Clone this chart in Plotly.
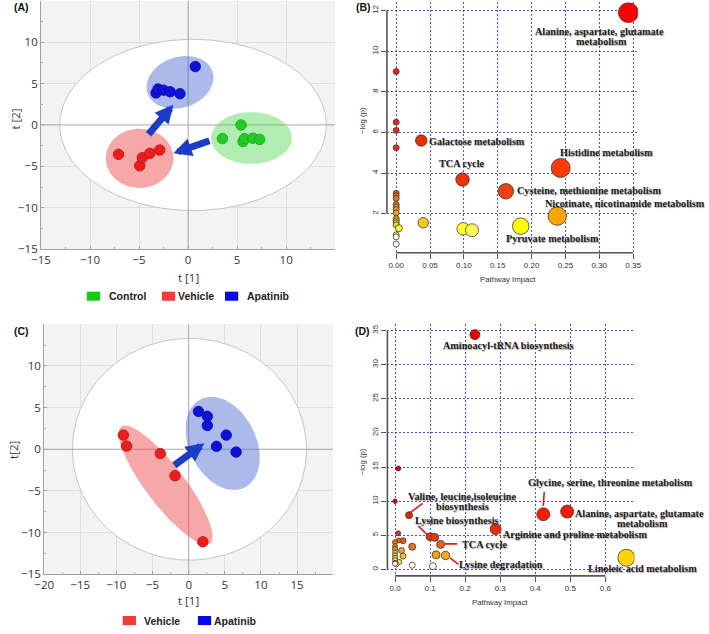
import numpy as np
import plotly.graph_objects as go

W, H = 709, 634

# ---------------- (A) PCA scores: Control / Vehicle / Apatinib ----------------
a_control_t1 = [5.4, 3.5, 5.6, 5.75, 6.6, 7.3]
a_control_t2 = [0.0, -1.65, -2.0, -1.65, -1.6, -1.75]
a_vehicle_t1 = [-7.1, -4.93, -4.67, -3.9, -2.9]
a_vehicle_t2 = [-3.55, -4.94, -3.95, -3.43, -3.03]
a_apatinib_t1 = [0.73, -3.27, -3.07, -2.5, -1.83, -0.83]
a_apatinib_t2 = [7.05, 3.86, 4.34, 4.2, 4.0, 3.77]
a_ticks = [-15, -10, -5, 0, 5, 10]
a_legend = ["Control", "Vehicle", "Apatinib"]

# ---------------- (C) PCA scores: Vehicle / Apatinib ----------------
c_vehicle_t1 = [-9.04, -8.6, -3.93, -1.9, 1.95]
c_vehicle_t2 = [1.7, 0.39, -0.52, -3.17, -11.1]
c_apatinib_t1 = [1.36, 2.58, 2.58, 5.2, 3.85, 6.56]
c_apatinib_t2 = [4.54, 3.95, 2.85, 1.7, 0.35, -0.33]
c_xticks = [-20, -15, -10, -5, 0, 5, 10, 15]
c_yticks = [-15, -10, -5, 0, 5, 10]
c_legend = ["Vehicle", "Apatinib"]

group_colors = {"Control": "#22cc22", "Vehicle": "#ee1c1c", "Apatinib": "#1010dc"}
group_edges = {"Control": "#16a316", "Vehicle": "#b81010", "Apatinib": "#0a0a9c"}
legend_colors = {"Control": "#11cc11", "Vehicle": "#f53c3c", "Apatinib": "#0808e8"}
ellipse_fills = {"Control": "rgba(60,210,60,0.40)", "Vehicle": "rgba(235,60,60,0.45)",
                 "Apatinib": "rgba(70,100,210,0.45)"}

# ---------------- (B) pathway analysis: Vehicle vs Control ----------------
b_impact = [0.0, 0.0, 0.0, 0.0, 0.0, 0.0, 0.0, 0.0, 0.0, 0.0, 0.0, 0.0, 0.0, 0.0, 0.0,
            0.0, 0.0, 0.0, 0.004, 0.040, 0.037, 0.098, 0.099, 0.112, 0.162, 0.184,
            0.238, 0.243, 0.343]
b_logp = [9.0, 6.5, 6.1, 5.25, 3.0, 2.88, 2.75, 2.45, 2.33, 2.2, 2.03, 1.75, 1.65, 1.55,
          1.45, 0.95, 0.85, 0.5, 1.28, 1.55, 5.6, 3.68, 1.25, 1.18, 3.1, 1.38, 1.88,
          4.25, 11.9]
b_size = [6, 6, 6, 6, 6, 6, 6, 6, 6, 6, 6, 6, 6, 6, 6, 6, 6, 6, 7, 10.5, 11.5, 13.5,
          12.5, 13, 15.5, 16.5, 18.5, 19, 20]
b_color = ["#e81e0a", "#e8240a", "#e8280a", "#e82e0a", "#e85c10", "#e86610", "#ea6e10",
           "#ee7e10", "#f08810", "#f29210", "#f4a010", "#f8b814", "#f8c014", "#fac814",
           "#fcd818", "#f6eea0", "#fafad2", "#ffffff", "#ffff20", "#f8c820", "#ee2a00",
           "#f03200", "#ffff30", "#ffff50", "#ee4010", "#ffff00", "#ffa500", "#ff3a00",
           "#ff0000"]
b_label_text = ["Alanine, aspartate, glutamate", "metabolism", "Galactose metabolism",
                "Histidine metabolism", "TCA cycle", "Cysteine, methionine metabolism",
                "Nicotinate, nicotinamide metabolism", "Pyruvate metabolism"]
b_label_x = [0.3008, 0.3028, 0.0449, 0.311, 0.0963, 0.176, 0.3375, 0.2313]
b_label_y = [10.98, 10.46, 5.54, 5.02, 4.45, 3.155, 2.49, 0.78]
b_label_anchor = ["center", "center", "left", "center", "center", "left", "center", "center"]
b_xticks = [0.0, 0.05, 0.10, 0.15, 0.20, 0.25, 0.30, 0.35]
b_yticks = [2, 4, 6, 8, 10, 12]

# ---------------- (D) pathway analysis: Apatinib vs Vehicle ----------------
d_impact = [0.228, 0.009, 0.0, 0.04, 0.423, 0.491, 0.287, 0.100, 0.113, 0.130, 0.117,
            0.144, 0.660, 0.049, 0.108, 0.049, 0.009, 0.023, 0.010, 0.0, 0.0185, 0.023,
            0.012, 0.004, 0.0, 0.0, 0.0, 0.0, 0.0, 0.0, 0.0, 0.0]
d_logp = [34.4, 14.8, 10.0, 7.95, 8.09, 8.48, 5.9, 4.8, 4.7, 3.67, 2.14, 2.05, 1.71,
          0.62, 0.48, 3.33, 5.3, 4.2, 4.25, 4.0, 2.76, 1.95, 1.1, 0.76, 3.4, 3.0, 2.5,
          2.05, 1.7, 1.35, 1.0, 0.85]
d_size = [10, 5, 4.5, 7, 13, 13, 11, 8, 8, 8, 8, 8.5, 17, 6, 7, 7, 5, 6, 5, 5, 6, 6,
          5, 5, 5, 5, 5, 5, 5, 5, 4.5, 5]
d_color = ["#ee0000", "#dd0000", "#dd0000", "#ee2200", "#ff1a00", "#ff1500", "#ee2800",
           "#ee3300", "#ee3800", "#f06010", "#f8a010", "#f8a818", "#ffd200", "#fffff0",
           "#ffffff", "#ee7010", "#e83010", "#e86010", "#e85c10", "#ea6a10", "#f4a020",
           "#f8c020", "#ffee30", "#ffffb0", "#ee8010", "#f09010", "#f4a820", "#f8c020",
           "#fad030", "#fce040", "#222222", "#fffff0"]
d_label_text = ["Aminoacyl-tRNA biosynthesis", "Glycine, serine, threonine metabolism",
                "Valine, leucine,isoleucine", "biosynthesis", "Lysine biosynthesis",
                "Arginine and proline metabolism", "TCA cycle", "Lysine degradation",
                "Alanine, aspartate, glutamate", "metabolism", "Linoleic acid metabolism"]
d_label_x = [0.325, 0.6145, 0.19, 0.1936, 0.176, 0.5133, 0.2565, 0.302, 0.698, 0.7055, 0.7055]
d_label_y = [32.87, 12.68, 10.65, 9.2, 7.22, 5.09, 3.64, 0.74, 8.19, 6.74, 0.12]
d_lead_x0 = [0.4257, 0.0789, 0.0668, 0.1413, 0.157]
d_lead_y0 = [11.38, 9.68, 6.39, 3.74, 1.71]
d_lead_x1 = [0.423, 0.0434, 0.092, 0.177, 0.181]
d_lead_y1 = [9.29, 8.33, 5.04, 3.74, 0.74]
d_xticks = [0.0, 0.1, 0.2, 0.3, 0.4, 0.5, 0.6]
d_yticks = [0, 5, 10, 15, 20, 25, 30, 35]

# ---------------- geometry (pixel boxes of the four plot areas) ----------------
# (left px, right px, top px, bottom px, x range, y range)
PANELS = {
    "A": (31.7, 331.7, 0.75, 251.9, (-15, 15), (-15, 15)),
    "B": (384.5, 640.5, 2.5, 255.5, (-0.0137, 0.357), (0.076, 12.4)),
    "C": (34.9, 329.7, 327.85, 580.75, (-20, 20), (-15, 15)),
    "D": (385.0, 637.0, 328.0, 582.3, (-0.0218, 0.683), (-0.94, 35.9)),
}


def scale(p):
    l, r, t, b, xr, yr = PANELS[p]
    return (r - l) / (xr[1] - xr[0]), (b - t) / (yr[1] - yr[0])


def data_to_paper(p, x, y):
    l, r, t, b, xr, yr = PANELS[p]
    sx, sy = scale(p)
    return (l + (x - xr[0]) * sx) / W, 1 - (b - (y - yr[0]) * sy) / H


def ellipse(p, cx, cy, a_px, b_px, ang, n=241):
    sx, sy = scale(p)
    t = np.linspace(0, 2 * np.pi, n)
    th = np.deg2rad(ang)
    u, v = a_px * np.cos(t), b_px * np.sin(t)
    X = u * np.cos(th) - v * np.sin(th)
    Y = u * np.sin(th) + v * np.cos(th)
    return cx + X / sx, cy + Y / sy


def px(x, y):
    return x / W, 1 - y / H


fig = go.Figure()
shapes = []

# ---------- PCA panels ----------
def pca_panel(p, xa, ya, hot, ells, groups, arrows):
    xr, yr = PANELS[p][4], PANELS[p][5]
    shapes.append(dict(type="rect", xref=xa + " domain", yref=ya + " domain", x0=0, x1=1,
                       y0=0, y1=1, fillcolor="#f3f3f3", line=dict(width=0), layer="below"))
    ex, ey = ellipse(p, *hot)
    fig.add_trace(go.Scatter(x=ex, y=ey, mode="lines", fill="toself", fillcolor="white",
                             line=dict(color="#c4c4c4", width=1), xaxis=xa, yaxis=ya,
                             hoverinfo="skip"))
    fig.add_trace(go.Scatter(x=[xr[0], xr[1]], y=[0, 0], mode="lines",
                             line=dict(color="#a8a8a8", width=1), xaxis=xa, yaxis=ya,
                             hoverinfo="skip"))
    fig.add_trace(go.Scatter(x=[0, 0], y=[yr[0], yr[1]], mode="lines",
                             line=dict(color="#a8a8a8", width=1), xaxis=xa, yaxis=ya,
                             hoverinfo="skip"))
    for g, e in ells:
        ex, ey = ellipse(p, *e)
        fig.add_trace(go.Scatter(x=ex, y=ey, mode="lines", fill="toself",
                                 fillcolor=ellipse_fills[g], line=dict(width=0),
                                 xaxis=xa, yaxis=ya, hoverinfo="skip"))
    for g, xs, ys in groups:
        fig.add_trace(go.Scatter(x=xs, y=ys, mode="markers", name=g,
                                 marker=dict(size=10.5, color=group_colors[g],
                                             line=dict(color=group_edges[g], width=0.8)),
                                 xaxis=xa, yaxis=ya))
    for (tx, ty, hx, hy) in arrows:
        fig.add_annotation(x=hx, y=hy, ax=tx, ay=ty, xref=xa, yref=ya, axref=xa, ayref=ya,
                           text="", showarrow=True, arrowhead=2, arrowsize=0.52,
                           arrowwidth=7, arrowcolor="#1b3ccb")


pca_panel("A", "x", "y", (0.5, 0.0, 136, 86.6, 0),
          [("Apatinib", (-0.83, 5.14, 35, 25.7, 18)),
           ("Vehicle", (-4.95, -4.03, 34.5, 30, 0)),
           ("Control", (6.46, -1.58, 41.3, 26.2, 0))],
          [("Control", a_control_t1, a_control_t2),
           ("Vehicle", a_vehicle_t1, a_vehicle_t2),
           ("Apatinib", a_apatinib_t1, a_apatinib_t2)],
          [(-4.17, -1.3, -1.5, 2.43), (2.33, -1.84, -1.5, -3.43)])

pca_panel("C", "x3", "y3", (0.1, 0.0, 119.4, 112.1, 0),
          [("Vehicle", (-3.2, -4.3, 74.4, 19.8, -52.5)),
           ("Apatinib", (4.7, 0.7, 50, 34, -63))],
          [("Vehicle", c_vehicle_t1, c_vehicle_t2),
           ("Apatinib", c_apatinib_t1, c_apatinib_t2)],
          [(-2.2, -2.06, 2.17, 0.71)])

# ---------- pathway panels ----------
label_font = dict(family="Liberation Serif", size=10.2, color="#1e1e1e", weight="bold",
                  shadow="0.7px 0.7px 0.8px rgba(0,0,0,0.35)")


def path_panel(p, xa, ya, xs, ys, sizes, colors, texts, lx, ly, anchors):
    fig.add_trace(go.Scatter(x=xs, y=ys, mode="markers",
                             marker=dict(size=sizes, color=colors, opacity=1,
                                         line=dict(color="#3a3a3a", width=0.8)),
                             xaxis=xa, yaxis=ya))
    for t, x, y, a in zip(texts, lx, ly, anchors):
        # labels may sit outside the axis range, so place them in paper units
        qx, qy = data_to_paper(p, x, y)
        fig.add_annotation(x=qx, y=qy, xref="paper", yref="paper", text=t,
                           showarrow=False, xanchor=a, yanchor="middle", font=label_font)


path_panel("B", "x2", "y2", b_impact, b_logp, b_size, b_color,
           b_label_text, b_label_x, b_label_y, b_label_anchor)

for x0, y0, x1, y1 in zip(d_lead_x0, d_lead_y0, d_lead_x1, d_lead_y1):
    fig.add_trace(go.Scatter(x=[x0, x1], y=[y0, y1], mode="lines",
                             line=dict(color="#e31a10", width=1.6), xaxis="x4", yaxis="y4",
                             hoverinfo="skip"))

path_panel("D", "x4", "y4", d_impact, d_logp, d_size, d_color,
           d_label_text, d_label_x, d_label_y, ["center"] * len(d_label_text))

# ---------- axes ----------
pca_font = dict(family="Open Sans", size=11.5, color="#333333")
r_font = dict(family="Liberation Sans", size=8, color="#333333")


def dom(p):
    l, r, t, b, xr, yr = PANELS[p]
    return [l / W, r / W], [1 - b / H, 1 - t / H], xr, yr


layout = dict(width=W, height=H, margin=dict(l=0, r=0, t=0, b=0),
              paper_bgcolor="white", plot_bgcolor="white", showlegend=False,
              hovermode=False)

for p, xn, yn, xt, yt in [("A", "xaxis", "yaxis", a_ticks, a_ticks),
                          ("C", "xaxis3", "yaxis3", c_xticks, c_yticks)]:
    xd, yd, xr, yr = dom(p)
    an_x = "y" if p == "A" else "y3"
    an_y = "x" if p == "A" else "x3"
    common = dict(showgrid=True, gridcolor="#dedede", gridwidth=1, zeroline=False,
                  showline=True, linecolor="#a0a0a0", linewidth=1, ticks="inside",
                  ticklen=3, tickcolor="#a0a0a0", tickfont=pca_font,
                  minor=dict(ticks="inside", ticklen=2, dtick=2.5, tickcolor="#b0b0b0",
                             showgrid=False))
    layout[xn] = dict(domain=xd, range=list(xr), anchor=an_x, tickvals=xt,
                      ticktext=[str(v).replace("-", "\u2212") for v in xt], **common)
    layout[yn] = dict(domain=yd, range=list(yr), anchor=an_y, tickvals=yt,
                      ticktext=[str(v).replace("-", "\u2212") for v in yt], **common)

for p, xn, yn, xt, yt, fmt in [("B", "xaxis2", "yaxis2", b_xticks, b_yticks, ".2f"),
                               ("D", "xaxis4", "yaxis4", d_xticks, d_yticks, ".1f")]:
    xd, yd, xr, yr = dom(p)
    grid = dict(showgrid=True, gridcolor="rgba(30,30,245,0.8)", gridwidth=1,
                griddash="2px,2px", zeroline=False, showline=False, ticks="outside",
                ticklen=5, tickwidth=1, tickcolor="#555555", tickfont=r_font)
    layout[xn] = dict(domain=xd, range=list(xr), anchor=yn.replace("axis", ""),
                      tickvals=xt, tickformat=fmt, **grid)
    layout[yn] = dict(domain=yd, range=list(yr), anchor=xn.replace("axis", ""),
                      tickvals=yt, tickangle=-90, **grid)

fig.update_layout(**layout)

# R-style axis lines spanning the tick range
for xa, ya, xt, yt in [("x2", "y2", b_xticks, b_yticks), ("x4", "y4", d_xticks, d_yticks)]:
    shapes.append(dict(type="line", xref=xa + " domain", yref=ya, x0=0, x1=0,
                       y0=yt[0], y1=yt[-1], line=dict(color="#555555", width=1.6)))
    shapes.append(dict(type="line", xref=xa, yref=ya + " domain", x0=xt[0], x1=xt[-1],
                       y0=0, y1=0, line=dict(color="#555555", width=1.6)))

# legends for PCA panels
leg_font = dict(family="Liberation Sans", size=10.5, color="#222222", weight="bold")
for names, sq_left, txt_left, yc in [(a_legend, [78.3, 155, 219.3], [99, 169.3, 239.3], 299.5),
                                     (c_legend, [115, 191.7], [135, 205.7], 627.5)]:
    for n, sl, tl in zip(names, sq_left, txt_left):
        x0, y0 = px(sl, yc - 4.6)
        x1, y1 = px(sl + 13.5, yc + 4.6)
        shapes.append(dict(type="rect", xref="paper", yref="paper", x0=x0, x1=x1,
                           y0=y1, y1=y0, fillcolor=legend_colors[n], line=dict(width=0)))
        tx, ty = px(tl, yc)
        fig.add_annotation(x=tx, y=ty, xref="paper", yref="paper", text=n, showarrow=False,
                           xanchor="left", yanchor="middle", font=leg_font)

fig.update_layout(shapes=shapes)

# axis titles and panel letters
r_title = dict(family="Liberation Sans", size=7.8, color="#333")
titles = [("t [1]", 181.7, 281, 0, pca_font), ("t [2]", 6, 120, -90, pca_font),
          ("t [1]", 182, 607.7, 0, pca_font), ("t[2]", 4, 455, -90, pca_font),
          ("Pathway Impact", 508.3, 282.7, 0, r_title),
          ("\u2212log (p)", 359.5, 122, -90, r_title),
          ("Pathway Impact", 500.3, 609, 0, r_title),
          ("\u2212log (p)", 359.5, 467, -90, r_title)]
for t, x, y, ang, f in titles:
    tx, ty = px(x, y)
    fig.add_annotation(x=tx, y=ty, xref="paper", yref="paper", text=t, showarrow=False,
                       textangle=ang, xanchor="center", yanchor="middle", font=f)

letter_font = dict(family="Liberation Sans", size=10.5, color="#111111", weight="bold")
for t, x, y in [("(A)", 2, 7), ("(B)", 351, 7), ("(C)", 2, 335), ("(D)", 350, 335)]:
    tx, ty = px(x, y)
    fig.add_annotation(x=tx, y=ty, xref="paper", yref="paper", text=t, showarrow=False,
                       xanchor="left", yanchor="middle", font=letter_font)

fig.write_html("out.html", config={"displayModeBar": False, "staticPlot": True},
               post_script="document.body.style.margin='0';"
                           "document.body.style.overflow='hidden';")
